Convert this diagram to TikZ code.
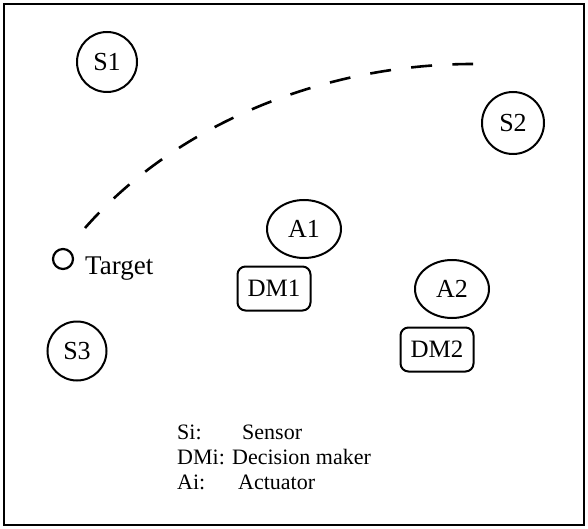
\documentclass[tikz,border=0pt]{standalone}
\usepackage{fontspec}
\setmainfont{Liberation Serif}
\usetikzlibrary{shapes.geometric}
\newcommand{\fs}[1]{\fontsize{#1}{#1}\selectfont}
\begin{document}
\begin{tikzpicture}[x=1pt,y=-1pt,
  sensor/.style={draw,circle,line width=2pt,inner sep=0pt,minimum size=#1,font=\fs{26}},
  actuator/.style={draw,ellipse,line width=2pt,inner sep=0pt,minimum width=74pt,minimum height=58pt,font=\fs{26}},
  dmbox/.style={draw,rounded corners=8pt,line width=2pt,inner sep=0pt,minimum width=73pt,minimum height=44pt,font=\fs{25}},
  legend/.style={anchor=base west,inner sep=0pt,font=\fs{22}},
  path/.style={line width=2.6pt,dash pattern=on 21pt off 20.3pt}]
\useasboundingbox (0,0) rectangle (588,529);
\draw[line width=2.4pt] (4,4) rectangle (584,525);

% sensors
\node[sensor=60pt] (s1) at (107,62) {S1};
\node[sensor=62pt] (s2) at (513,123) {S2};
\node[sensor=59pt] (s3) at (77,351) {S3};

% actuators
\node[actuator] (a1) at (304,229) {A1};
\node[actuator] (a2) at (452,289) {A2};

% decision makers
\node[dmbox] (dm1) at (274,288.5) {DM1};
\node[dmbox] (dm2) at (437,349.5) {DM2};

% target
\node[draw,circle,line width=2.2pt,inner sep=0pt,minimum size=20pt] (tg) at (63,259) {};
\node[anchor=base west,inner sep=0pt,font=\fs{27}] (tgl) at (85,274) {Target};

% target trajectory
\coordinate (p0) at (85,228);
\coordinate (p1) at (473,64);
\draw[path] (p0) .. controls (180,120) and (330,64) .. (p1);

% legend
\node[legend] (l1) at (177,439) {Si:};
\node[legend] (l1b) at (242,439) {Sensor};
\node[legend] (l2) at (177,464) {DMi: Decision maker};
\node[legend] (l3) at (177,489) {Ai:};
\node[legend] (l3b) at (238,489) {Actuator};
\end{tikzpicture}
\end{document}
